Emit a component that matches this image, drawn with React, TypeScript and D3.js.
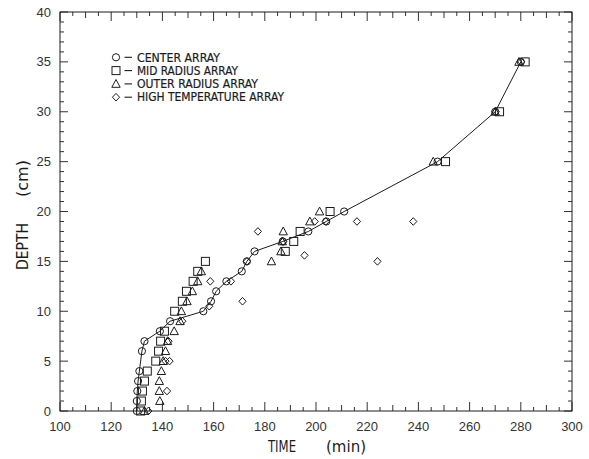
import React from "react";
import * as d3 from "d3";

// ---- data (time in min, depth in cm) ----
const centerTime = [130, 130, 130.2, 130.5, 131, 132, 133, 139, 143, 156, 159, 161, 165, 171, 173, 176, 187, 197, 204, 211, 247.5, 270, 280];
const centerDepth = [0, 1, 2, 3, 4, 6, 7, 8, 9, 10, 11, 12, 13, 14, 15, 16, 17, 18, 19, 20, 25, 30, 35];

const midTime = [131.5, 131.8, 132.2, 133, 134.1, 137.4, 138.5, 139.3, 140.8, 144.8, 147.8, 149.4, 152, 153.8, 156.8, 188, 191.3, 193.8, 205.5, 250.6, 271.7, 281.7];
const midDepth = [0, 1, 2, 3, 4, 5, 6, 7, 8, 10, 11, 12, 13, 14, 15, 16, 17, 18, 20, 25, 30, 35];

const outerTime = [133, 139, 138.8, 138.8, 139.6, 140.3, 141.2, 142, 144.6, 146.9, 147.4, 149.6, 151.7, 153.8, 155.2, 182.6, 186.3, 186.8, 187.2, 197.6, 201.4, 245.8, 270, 279.3];
const outerDepth = [0, 1, 2, 3, 4, 5, 6, 7, 8, 9, 10, 11, 12, 13, 14, 15, 16, 17, 18, 19, 20, 25, 30, 35];

const highTime = [134.5, 141.8, 141.2, 142.8, 142.4, 147.8, 158.3, 171.3, 158.7, 166.8, 173, 195.5, 224, 187.2, 177.3, 199.5, 203.8, 216, 238, 270.2, 280.2];
const highDepth = [0, 2, 5, 5, 7, 9, 10.5, 11, 13, 13, 15, 15.6, 15, 17, 18, 19, 19, 19, 19, 30, 35];

const xTickValues = [100, 120, 140, 160, 180, 200, 220, 240, 260, 280, 300];
const yTickValues = [0, 5, 10, 15, 20, 25, 30, 35, 40];

const legendLabels = ["CENTER ARRAY", "MID RADIUS ARRAY", "OUTER RADIUS ARRAY", "HIGH TEMPERATURE ARRAY"];
const legendWidths = [83, 101, 121, 147];

// ---- layout ----
const W = 589;
const H = 459;
const L = 60, R = 572, T = 12, B = 411;
const INK = "#1c1c1c";
const FONT = "'Liberation Sans Narrow', 'DejaVu Sans Condensed', 'Liberation Sans', sans-serif";
const TICKFONT = "'Liberation Sans', 'DejaVu Sans', sans-serif";

type Kind = "circle" | "square" | "triangle" | "diamond";

function Marker({ x, y, kind }: { x: number; y: number; kind: Kind }) {
  const common = { fill: "none", stroke: INK, strokeWidth: 1 };
  if (kind === "circle") return <circle cx={x} cy={y} r={3.6} {...common} />;
  if (kind === "square") return <rect x={x - 4} y={y - 4} width={8} height={8} {...common} />;
  if (kind === "triangle")
    return <path d={`M${x},${y - 4.4}L${x + 4.2},${y + 3.4}L${x - 4.2},${y + 3.4}Z`} {...common} />;
  return <path d={`M${x},${y - 3.8}L${x + 3.6},${y}L${x},${y + 3.8}L${x - 3.6},${y}Z`} {...common} />;
}

export default function App() {
  const x = d3.scaleLinear().domain([100, 300]).range([L, R]);
  const y = d3.scaleLinear().domain([0, 40]).range([B, T]);

  const line = d3
    .line<number>()
    .x((_, i) => x(centerTime[i]))
    .y((_, i) => y(centerDepth[i]));

  const xMinor = d3.range(100, 301, 5);
  const yMinor = d3.range(0, 41, 1);

  const series: { t: number[]; d: number[]; k: Kind }[] = [
    { t: centerTime, d: centerDepth, k: "circle" },
    { t: midTime, d: midDepth, k: "square" },
    { t: outerTime, d: outerDepth, k: "triangle" },
    { t: highTime, d: highDepth, k: "diamond" },
  ];
  const kinds: Kind[] = ["circle", "square", "triangle", "diamond"];

  return (
    <svg width={W} height={H} style={{ position: "absolute", left: 0, top: 0, background: "#fff" }}>
      {/* frame */}
      <rect x={L} y={T} width={R - L} height={B - T} fill="none" stroke={INK} strokeWidth={1} />

      {/* x ticks (bottom + top, inward) */}
      {xMinor.map((v) => {
        const len = v % 20 === 0 ? 9 : v % 10 === 0 ? 6 : 4;
        return (
          <g key={"xt" + v}>
            <line x1={x(v)} x2={x(v)} y1={B} y2={B - len} stroke={INK} strokeWidth={0.9} />
            <line x1={x(v)} x2={x(v)} y1={T} y2={T + len} stroke={INK} strokeWidth={0.9} />
          </g>
        );
      })}
      {/* y ticks (left + right, inward) */}
      {yMinor.map((v) => {
        const len = v % 5 === 0 ? 8 : 4;
        return (
          <g key={"yt" + v}>
            <line x1={L} x2={L + len} y1={y(v)} y2={y(v)} stroke={INK} strokeWidth={0.9} />
            <line x1={R} x2={R - len} y1={y(v)} y2={y(v)} stroke={INK} strokeWidth={0.9} />
          </g>
        );
      })}

      {/* tick labels */}
      {xTickValues.map((v) => (
        <text key={"xl" + v} x={x(v)} y={431} textAnchor="middle" fontFamily={TICKFONT} fontSize={13} fill="#333">
          {v}
        </text>
      ))}
      {yTickValues.map((v) => (
        <text key={"yl" + v} x={51} y={y(v) + 4.6} textAnchor="end" fontFamily={TICKFONT} fontSize={13} fill="#333">
          {v}
        </text>
      ))}

      {/* axis titles */}
      <text x={268} y={452} fontFamily={FONT} fontSize={15} fill={INK} textLength={28} lengthAdjust="spacingAndGlyphs">
        TIME
      </text>
      <text x={326} y={452} fontFamily={FONT} fontSize={15} fill={INK} textLength={40} lengthAdjust="spacingAndGlyphs">
        (min)
      </text>
      <text
        transform={`translate(28,270) rotate(-90)`}
        fontFamily={FONT}
        fontSize={15}
        fill={INK}
        textLength={47}
        lengthAdjust="spacingAndGlyphs"
      >
        DEPTH
      </text>
      <text
        transform={`translate(28,197) rotate(-90)`}
        fontFamily={FONT}
        fontSize={15}
        fill={INK}
        textLength={37}
        lengthAdjust="spacingAndGlyphs"
      >
        (cm)
      </text>

      {/* legend */}
      {legendLabels.map((lab, i) => {
        const cy = 57.3 + i * 13.3;
        return (
          <g key={"lg" + i}>
            <Marker x={116} y={cy} kind={kinds[i]} />
            <line x1={124.5} x2={132} y1={cy} y2={cy} stroke={INK} strokeWidth={1.1} />
            <text x={137} y={cy + 4.2} fontFamily={FONT} fontSize={11.5} fill={INK} stroke={INK} strokeWidth={0.2} textLength={legendWidths[i]} lengthAdjust="spacingAndGlyphs">
              {lab}
            </text>
          </g>
        );
      })}

      {/* connecting line through center array */}
      <path d={line(centerTime) || ""} fill="none" stroke={INK} strokeWidth={1} />

      {/* markers */}
      {series.map((s, si) =>
        s.t.map((t, i) => <Marker key={`m${si}-${i}`} x={x(t)} y={y(s.d[i])} kind={s.k} />)
      )}
    </svg>
  );
}
